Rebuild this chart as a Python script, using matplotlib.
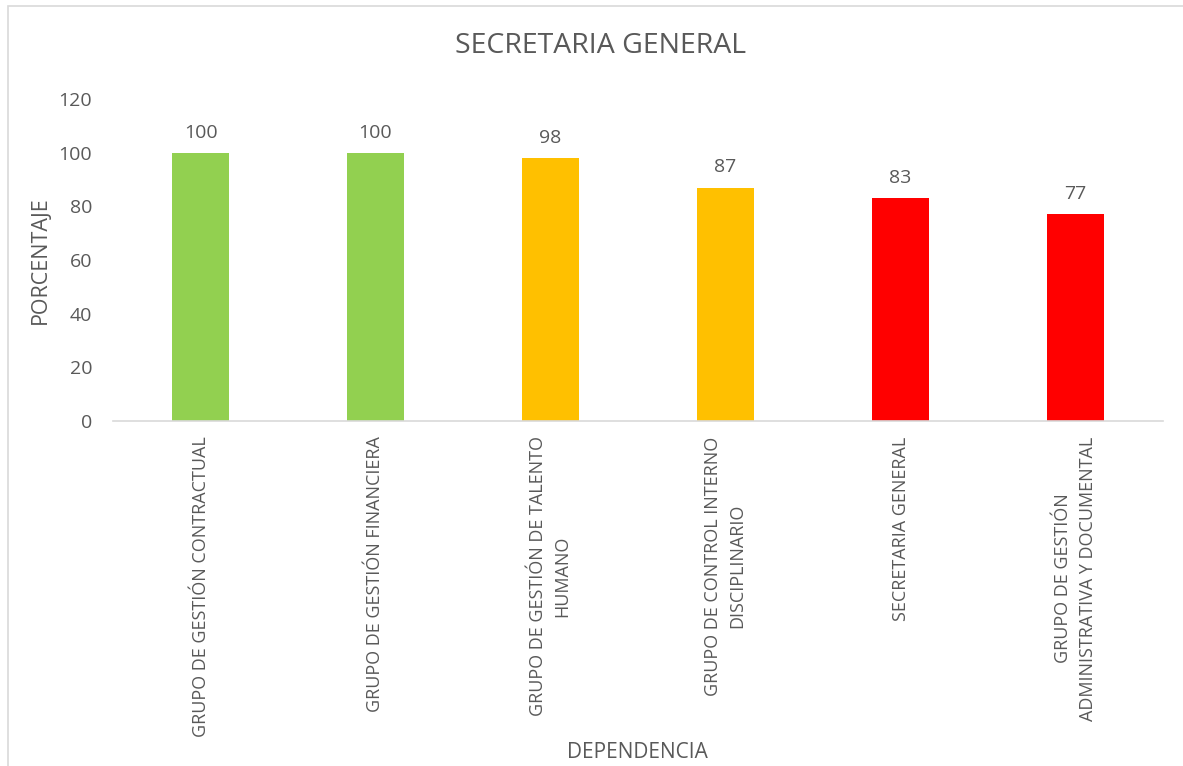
import matplotlib
matplotlib.use("Agg")
import matplotlib.pyplot as plt
from matplotlib.patches import Rectangle

categories = [
    "GRUPO DE GESTIÓN CONTRACTUAL",
    "GRUPO DE GESTIÓN FINANCIERA",
    "GRUPO DE GESTIÓN DE TALENTO\nHUMANO",
    "GRUPO DE CONTROL INTERNO\nDISCIPLINARIO",
    "SECRETARIA GENERAL",
    "GRUPO DE GESTIÓN\nADMINISTRATIVA Y DOCUMENTAL",
]
values = [100, 100, 98, 87, 83, 77]
bar_colors = ["#92D050", "#92D050", "#FFC000", "#FFC000", "#FF0000", "#FF0000"]
yticks = [0, 20, 40, 60, 80, 100, 120]

TXT = "#595959"
plt.rcParams['font.family'] = ['Open Sans', 'DejaVu Sans']

fig = plt.figure(figsize=(11.83, 7.66), dpi=100)
W, H = 1183, 766
ax = fig.add_axes([113 / W, 1 - 421 / H, (1163 - 113) / W, (421 - 99) / H])

x = list(range(len(categories)))
bars = ax.bar(x, values, width=0.325, color=bar_colors, zorder=2)
for xi, v in zip(x, values):
    ax.annotate(f"{v}", (xi, v), xytext=(0, 8), textcoords="offset points",
                ha="center", va="bottom", fontsize=14, color=TXT)

ax.set_xlim(-0.5, len(categories) - 0.5)
ax.set_ylim(0, 120)
ax.set_yticks(yticks)
ax.set_yticklabels([str(t) for t in yticks], fontsize=14, color=TXT)
ax.set_xticks(x)
ax.set_xticklabels(categories, rotation=90, ha="center", va="top",
                   multialignment="center", fontsize=13, color=TXT,
                   linespacing=1.45)
ax.tick_params(axis="both", length=0)
ax.tick_params(axis="x", pad=11)
ax.tick_params(axis="y", pad=15)
for s in ["top", "right", "left"]:
    ax.spines[s].set_visible(False)
ax.spines["bottom"].set_color("#D9D9D9")
ax.spines["bottom"].set_linewidth(1.2)

fig.text(40 / W, 1 - 260 / H, "PORCENTAJE", ha="center", va="center",
         rotation=90, fontsize=15.5, color=TXT)
fig.text(637 / W, 1 - 752 / H, "DEPENDENCIA", ha="center", va="center",
         fontsize=15, color=TXT)
fig.text(601 / W, 1 - 46 / H, "SECRETARIA GENERAL", ha="center", va="center",
         fontsize=20.5, color=TXT)

fig.patches.append(Rectangle((8 / W, -0.1), 1.2, 1 - 6 / H + 0.1,
                             transform=fig.transFigure, fill=False,
                             edgecolor="#D9D9D9", linewidth=1.2))

fig.savefig("out.png", dpi=100)
